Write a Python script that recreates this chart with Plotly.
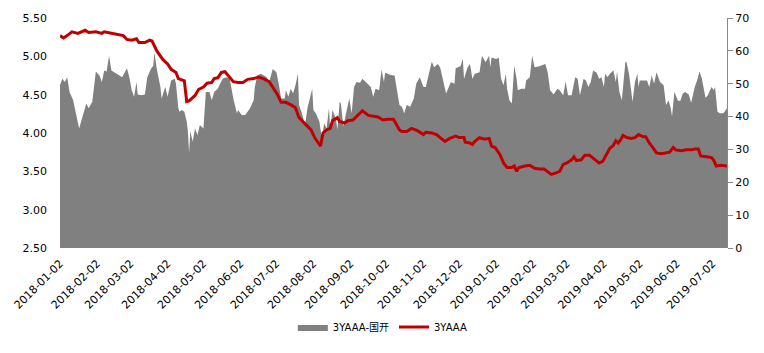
import plotly.graph_objects as go

spread_dates = [
    "2018-01-02","2018-01-04","2018-01-06","2018-01-08","2018-01-10","2018-01-13","2018-01-18","2018-01-22","2018-01-24","2018-01-26",
    "2018-01-29","2018-02-01","2018-02-04","2018-02-06","2018-02-08","2018-02-10","2018-02-12","2018-02-14","2018-02-18","2018-02-23",
    "2018-02-27","2018-03-01","2018-03-03","2018-03-05","2018-03-07","2018-03-08","2018-03-11","2018-03-14","2018-03-16","2018-03-19",
    "2018-03-21","2018-03-22","2018-03-24","2018-03-27","2018-03-28","2018-03-31","2018-04-02","2018-04-05","2018-04-08","2018-04-09",
    "2018-04-11","2018-04-12","2018-04-14","2018-04-16","2018-04-18","2018-04-19","2018-04-20","2018-04-21","2018-04-23","2018-04-25",
    "2018-04-27","2018-04-29","2018-05-02","2018-05-04","2018-05-07","2018-05-09","2018-05-11","2018-05-14","2018-05-16","2018-05-18",
    "2018-05-21","2018-05-24","2018-05-27","2018-05-30","2018-05-31","2018-06-03","2018-06-06","2018-06-10","2018-06-13","2018-06-14",
    "2018-06-16","2018-06-19","2018-06-24","2018-06-26","2018-06-29","2018-07-02","2018-07-04","2018-07-06","2018-07-09","2018-07-10",
    "2018-07-12","2018-07-14","2018-07-16","2018-07-18","2018-07-20","2018-07-21","2018-07-23","2018-07-26","2018-07-28","2018-07-30",
    "2018-08-01","2018-08-02","2018-08-04","2018-08-07","2018-08-09","2018-08-11","2018-08-13","2018-08-15","2018-08-16","2018-08-18",
    "2018-08-21","2018-08-22","2018-08-24","2018-08-25","2018-08-27","2018-08-29","2018-09-01","2018-09-03","2018-09-05","2018-09-07",
    "2018-09-10","2018-09-12","2018-09-15","2018-09-19","2018-09-21","2018-09-23","2018-09-26","2018-09-27","2018-09-28","2018-09-30",
    "2018-10-01","2018-10-05","2018-10-09","2018-10-10","2018-10-13","2018-10-15","2018-10-17","2018-10-19","2018-10-22","2018-10-25",
    "2018-10-27","2018-10-30","2018-11-02","2018-11-04","2018-11-06","2018-11-09","2018-11-11","2018-11-14","2018-11-16","2018-11-18",
    "2018-11-21","2018-11-25","2018-11-28","2018-11-29","2018-12-03","2018-12-05","2018-12-06","2018-12-09","2018-12-11","2018-12-13",
    "2018-12-15","2018-12-19","2018-12-21","2018-12-24","2018-12-27","2018-12-28","2018-12-29","2019-01-02","2019-01-04","2019-01-06",
    "2019-01-08","2019-01-10","2019-01-11","2019-01-13","2019-01-15","2019-01-17","2019-01-19","2019-01-20","2019-01-23","2019-01-26",
    "2019-01-27","2019-01-30","2019-02-01","2019-02-03","2019-02-07","2019-02-12","2019-02-14","2019-02-16","2019-02-19","2019-02-22",
    "2019-02-24","2019-02-27","2019-03-01","2019-03-03","2019-03-06","2019-03-09","2019-03-11","2019-03-13","2019-03-16","2019-03-18",
    "2019-03-20","2019-03-22","2019-03-24","2019-03-27","2019-03-29","2019-03-31","2019-04-02","2019-04-03","2019-04-05","2019-04-07",
    "2019-04-10","2019-04-12","2019-04-13","2019-04-15","2019-04-17","2019-04-20","2019-04-21","2019-04-23","2019-04-26","2019-04-28",
    "2019-04-30","2019-05-01","2019-05-02","2019-05-06","2019-05-08","2019-05-10","2019-05-12","2019-05-14","2019-05-16","2019-05-19",
    "2019-05-22","2019-05-24","2019-05-26","2019-05-28","2019-05-29","2019-05-31","2019-06-03","2019-06-05","2019-06-07","2019-06-09",
    "2019-06-12","2019-06-14","2019-06-17","2019-06-19","2019-06-21","2019-06-23","2019-06-26","2019-06-28","2019-07-01","2019-07-03",
    "2019-07-04","2019-07-06","2019-07-08","2019-07-11","2019-07-13","2019-07-14",
]
spread_vals = [
    49.6, 51.5, 50.5, 52, 47.5, 45, 36.4, 41.5, 44, 42.5,
    44.5, 53.7, 52.5, 50.5, 54, 53.7, 58.5, 54, 53, 52,
    54.7, 52, 48, 46, 50.5, 46.7, 46.5, 46.7, 52, 54.5,
    55.5, 59.5, 54.5, 49, 45.5, 49, 46, 51, 51.5, 50,
    42.5, 41.5, 42, 41.5, 38.5, 35.5, 29, 35.5, 32.4, 36.4,
    34.4, 37.4, 36.4, 47.5, 47.5, 45, 47.5, 48.5, 50, 51.5,
    52, 51.5, 45.5, 41, 42, 40.5, 40.5, 42.5, 45, 49,
    52.5, 53, 52, 50.5, 54.5, 53.5, 50, 45.5, 45.5, 48,
    46, 48.5, 47, 49.5, 53, 43.5, 41.5, 37.5, 42.5, 46,
    48.5, 42, 41, 38.5, 33.4, 38, 36.4, 42.5, 36.4, 42,
    39, 36, 44.5, 44, 37, 40.5, 45.5, 41, 49, 50.5,
    50.3, 51.5, 50.5, 49, 46, 48.5, 48, 51.5, 54.3, 50.5,
    53.3, 52.7, 52.4, 50, 43.5, 43, 41, 43.5, 43, 45.5,
    50, 52, 49, 49, 52.5, 56.7, 55, 56, 55, 52,
    47, 50.5, 50, 54.7, 55.3, 57.5, 51.5, 55, 56, 51.5,
    53, 53.5, 58.5, 56.5, 58.5, 55, 58, 57.5, 58, 51.5,
    49.5, 53, 48.5, 45, 44, 55.5, 51.5, 48, 48.5, 48.5,
    51, 52, 58.5, 55, 55.3, 56, 53.5, 48, 46.7, 48.5,
    48, 46.5, 50.7, 46.5, 46.5, 52, 51.5, 46.5, 51.5, 51,
    49, 50.5, 54, 53.3, 51.5, 52, 49, 53, 52, 53,
    54, 50.5, 53.7, 47.5, 45, 56.7, 56.5, 53, 44.5, 50.5,
    53, 49, 51, 51, 51, 49, 52.5, 50, 53.5, 50.5,
    49.5, 43.5, 45, 42.5, 40, 47.5, 44.8, 44.8, 47, 47.5,
    46.7, 44.2, 49, 51, 53.7, 51.5, 45.7, 46.5, 49, 48,
    49, 41.5, 41, 41, 42, 42.5,
]

yield_dates = [
    "2018-01-02","2018-01-05","2018-01-08","2018-01-12","2018-01-17","2018-01-23","2018-01-26","2018-02-01","2018-02-06","2018-02-08",
    "2018-02-14","2018-02-20","2018-02-24","2018-02-27","2018-03-03","2018-03-07","2018-03-09","2018-03-14","2018-03-18","2018-03-20",
    "2018-03-24","2018-03-29","2018-04-02","2018-04-05","2018-04-09","2018-04-11","2018-04-16","2018-04-18","2018-04-20","2018-04-25",
    "2018-04-28","2018-05-02","2018-05-05","2018-05-09","2018-05-11","2018-05-14","2018-05-17","2018-05-20","2018-05-23","2018-05-27",
    "2018-05-31","2018-06-04","2018-06-08","2018-06-13","2018-06-17","2018-06-21","2018-06-26","2018-06-29","2018-07-03","2018-07-06",
    "2018-07-10","2018-07-15","2018-07-18","2018-07-21","2018-07-24","2018-07-28","2018-07-31","2018-08-03","2018-08-06","2018-08-08",
    "2018-08-10","2018-08-13","2018-08-16","2018-08-18","2018-08-22","2018-08-24","2018-08-28","2018-08-31","2018-09-04","2018-09-08",
    "2018-09-12","2018-09-17","2018-09-21","2018-09-25","2018-09-29","2018-10-03","2018-10-08","2018-10-13","2018-10-15","2018-10-19",
    "2018-10-23","2018-10-28","2018-11-02","2018-11-04","2018-11-09","2018-11-13","2018-11-16","2018-11-20","2018-11-24","2018-11-29",
    "2018-12-02","2018-12-06","2018-12-07","2018-12-11","2018-12-13","2018-12-15","2018-12-19","2018-12-23","2018-12-27","2018-12-29",
    "2019-01-01","2019-01-05","2019-01-08","2019-01-11","2019-01-15","2019-01-17","2019-01-19","2019-01-21","2019-01-26","2019-01-30",
    "2019-02-03","2019-02-07","2019-02-11","2019-02-14","2019-02-17","2019-02-21","2019-02-24","2019-02-27","2019-03-02","2019-03-06",
    "2019-03-08","2019-03-10","2019-03-14","2019-03-17","2019-03-21","2019-03-25","2019-03-29","2019-04-01","2019-04-04","2019-04-07",
    "2019-04-10","2019-04-12","2019-04-14","2019-04-16","2019-04-18","2019-04-21","2019-04-25","2019-04-28","2019-05-01","2019-05-05",
    "2019-05-07","2019-05-10","2019-05-13","2019-05-16","2019-05-20","2019-05-23","2019-05-27","2019-05-30","2019-06-01","2019-06-06",
    "2019-06-10","2019-06-14","2019-06-17","2019-06-20","2019-06-22","2019-06-27","2019-07-01","2019-07-03","2019-07-05","2019-07-09",
    "2019-07-12","2019-07-14",
]
yield_vals = [
    5.27, 5.24, 5.27, 5.32, 5.30, 5.34, 5.31, 5.32, 5.30, 5.32,
    5.30, 5.28, 5.27, 5.22, 5.21, 5.23, 5.18, 5.18, 5.21, 5.20,
    5.07, 4.96, 4.90, 4.83, 4.79, 4.71, 4.68, 4.41, 4.42, 4.49,
    4.57, 4.60, 4.65, 4.66, 4.71, 4.72, 4.79, 4.80, 4.75, 4.67,
    4.66, 4.66, 4.70, 4.71, 4.73, 4.71, 4.67, 4.60, 4.50, 4.40,
    4.40, 4.36, 4.33, 4.20, 4.15, 4.08, 4.04, 3.94, 3.88, 3.83,
    4.00, 4.04, 4.06, 4.16, 4.20, 4.15, 4.13, 4.16, 4.17, 4.23,
    4.29, 4.23, 4.22, 4.21, 4.17, 4.18, 4.18, 4.04, 4.02, 4.02,
    4.06, 4.03, 3.98, 4.01, 4.00, 3.98, 3.94, 3.89, 3.93, 3.96,
    3.94, 3.94, 3.88, 3.87, 3.85, 3.89, 3.94, 3.92, 3.93, 3.83,
    3.81, 3.72, 3.61, 3.55, 3.55, 3.57, 3.50, 3.55, 3.57, 3.58,
    3.54, 3.53, 3.53, 3.50, 3.46, 3.48, 3.50, 3.59, 3.61, 3.65,
    3.69, 3.64, 3.65, 3.71, 3.71, 3.66, 3.61, 3.63, 3.71, 3.80,
    3.84, 3.90, 3.87, 3.91, 3.97, 3.94, 3.93, 3.94, 3.98, 3.95,
    3.95, 3.87, 3.81, 3.74, 3.73, 3.74, 3.75, 3.81, 3.78, 3.77,
    3.78, 3.78, 3.79, 3.79, 3.70, 3.69, 3.68, 3.64, 3.57, 3.58,
    3.57, 3.57,
]

tick_dates = [
    "2018-01-02","2018-02-02","2018-03-02","2018-04-02","2018-05-02","2018-06-02","2018-07-02",
    "2018-08-02","2018-09-02","2018-10-02","2018-11-02","2018-12-02","2019-01-02","2019-02-02",
    "2019-03-02","2019-04-02","2019-05-02","2019-06-02","2019-07-02",
]
left_ticks = [2.5, 3.0, 3.5, 4.0, 4.5, 5.0, 5.5]
right_ticks = [0, 10, 20, 30, 40, 50, 60, 70]

FONT = "DejaVu Sans, Noto Sans CJK SC, sans-serif"

fig = go.Figure()
fig.add_trace(go.Scatter(
    x=spread_dates, y=spread_vals, name="3YAAA-国开",
    mode="lines", fill="tozeroy", fillcolor="#808080",
    line=dict(color="#808080", width=0), yaxis="y",
))
fig.add_trace(go.Scatter(
    x=yield_dates, y=yield_vals, name="3YAAA",
    mode="lines", line=dict(color="#C00000", width=3), yaxis="y2",
))

fig.update_layout(
    width=764, height=353,
    margin=dict(l=58, r=37, t=15, b=105),
    paper_bgcolor="white", plot_bgcolor="white",
    font=dict(family=FONT, size=11, color="#000000"),
    showlegend=True,
    legend=dict(orientation="h", x=0.484, xanchor="center", y=-0.343, yanchor="middle",
                font=dict(size=10, family=FONT), itemwidth=30, tracegroupgap=0),
    xaxis=dict(
        type="date", range=["2018-01-02", "2019-07-14"],
        tickvals=tick_dates, ticktext=tick_dates, tickangle=-45,
        showgrid=False, zeroline=False, showline=False, ticks="",
        tickfont=dict(size=11), ticklabelstandoff=6,
    ),
    yaxis=dict(
        side="right", range=[0, 70], tickvals=right_ticks,
        showgrid=False, zeroline=False, showline=True, linecolor="#888888", linewidth=1,
        ticks="outside", ticklen=5, tickcolor="#888888", tickfont=dict(size=11),
    ),
    yaxis2=dict(
        overlaying="y", side="left", range=[2.5, 5.5], tickvals=left_ticks,
        tickformat=".2f", showgrid=False, zeroline=False, showline=False,
        ticks="", tickfont=dict(size=11), ticklabelstandoff=12,
    ),
)

fig.write_html("out.html")
